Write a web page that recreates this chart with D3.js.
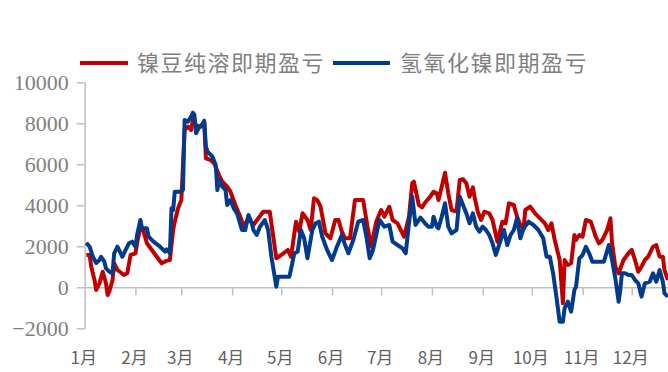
<!DOCTYPE html>
<html>
<head>
<meta charset="utf-8">
<script src="https://cdn.jsdelivr.net/npm/d3@7"></script>
<style>
  html, body { margin: 0; padding: 0; background: #fff; }
  svg { display: block; }
</style>
</head>
<body>
<svg id="chart" width="668" height="372"></svg>
<script>
// Series names and month labels
const seriesNames = ["镍豆纯溶即期盈亏", "氢氧化镍即期盈亏"];
const monthLabels = ["1月","2月","3月","4月","5月","6月","7月","8月","9月","10月","11月","12月"];
const yTickValues = [-2000, 0, 2000, 4000, 6000, 8000, 10000];

// 镍豆纯溶即期盈亏: day of year (0 = Jan 1) and value (元/吨)
const redDays = [1,3,4,6,7,9,11,13,14,15,17,18,20,24,26,28,31,32,34,36,38,41,44,47,50,52,54,55,57,59,
  61,63,65,66,68,70,73,74,77,79,82,84,87,89,92,95,97,100,103,106,109,113,117,120,124,126,129,131,133,136,
  138,140,142,144,147,150,153,155,157,159,162,165,170,173,175,178,181,183,186,188,191,195,198,200,201,204,206,208,211,213,
  215,216,218,220,222,224,227,229,231,233,235,237,238,240,242,244,247,249,252,255,257,259,262,264,266,268,269,272,275,278,
  281,283,285,287,290,292,293,295,297,299,300,302,304,306,309,312,314,316,319,321,322,324,326,329,332,334,336,338,340,342,
  344,347,349,351,353,354,356];
const redValues = [1576,1576,1005,356,-130,195,760,195,-375,-215,356,1170,844,600,683,1576,1660,2146,2956,2712,2146,1820,1490,1170,1300,1330,2795,3200,3853,4258,
  7674,7834,7674,8160,7917,7834,8000,6290,6210,6050,5478,5150,4907,4663,4015,3444,2956,3366,3039,3366,3688,3688,1415,1576,1820,1490,3200,2712,3610,3283,
  2795,4341,4258,3931,2634,2390,3283,3283,2712,2390,2390,4258,4258,2795,1980,3200,3771,3444,3931,3283,3122,2470,3444,5073,5150,4015,3900,4150,4420,4663,
  4585,4258,4907,5590,4585,3771,3688,5234,5268,5073,4420,4878,4420,3688,3283,3688,3610,3283,2225,3200,3122,4097,4015,3444,3039,2878,3771,3931,3610,3366,
  3122,2795,3122,2307,1330,-780,1330,1088,1170,2551,2307,2551,2470,3283,3200,2470,2146,2307,2795,3366,2146,1005,683,1330,1660,1820,1330,760,1005,1330,
  1490,1980,2063,1490,1490,844,356];

// 氢氧化镍即期盈亏
const blueDays = [1,3,5,7,9,10,12,13,15,17,18,20,23,25,27,29,31,32,34,35,38,39,42,46,49,50,52,53,54,55,
  58,60,61,63,65,66,67,68,70,71,73,74,75,78,80,81,82,84,86,87,89,91,93,96,98,100,102,103,105,107,
  110,112,114,117,118,125,128,130,132,134,136,139,141,143,145,148,151,154,157,159,161,164,167,170,172,174,176,180,183,186,
  188,191,194,196,198,200,202,205,208,210,212,213,215,216,218,220,222,224,227,229,231,233,235,237,239,241,243,245,247,249,
  251,253,256,258,260,262,264,266,268,271,274,277,280,282,284,286,288,290,292,293,295,297,299,300,302,304,306,308,310,314,
  317,320,322,324,326,327,328,330,332,334,336,338,340,342,345,347,349,351,353,354,356];
const blueValues = [2175,1980,1490,1185,1330,1490,1250,927,760,683,1660,1980,1490,1820,2146,2225,1980,2550,3283,2878,2878,2470,2225,1980,1737,1854,1660,3853,3771,4663,
  4663,4746,8160,8078,8322,8517,8405,7512,7834,7834,8127,6860,6615,6371,5966,4746,5234,4907,4746,4015,4258,3853,3610,2795,2795,3527,3122,2795,2551,2956,
  3283,2795,1490,30,517,517,1660,1737,2795,2390,1415,2795,3122,3200,2470,1820,1330,1980,2551,2063,1660,2307,3200,3283,2470,1415,1820,3283,2956,3039,
  2225,2063,1902,1660,3122,4420,3039,3400,3100,2956,2956,3444,2956,2878,3444,4097,2956,2634,2795,4420,4015,3610,3122,3610,2956,2712,2956,2795,2551,2146,
  1576,2063,2795,2063,2551,2795,3366,2390,2878,3200,3039,2795,2390,1490,1490,683,-455,-1677,-1677,-1025,-700,-1190,-130,30,1415,1576,1980,1660,1250,1250,
  1250,2063,1330,439,-700,-130,683,683,600,600,356,195,-455,195,273,683,273,844,273,-293,-455];

const year = 2023;
const dayToDate = d => d3.timeDay.offset(new Date(year, 0, 1), d);
const redSeries = redDays.map((d, i) => ({ date: dayToDate(d), value: redValues[i] }));
const blueSeries = blueDays.map((d, i) => ({ date: dayToDate(d), value: blueValues[i] }));

const svg = d3.select("#chart");
const gray = "#bfbfbf";
const textGray = "#7f7f7f";

const x = d3.scaleTime()
  .domain([new Date(year, 0, 1), new Date(year + 1, 0, 1)])
  .range([84.7, 682.5]);
const y = d3.scaleLinear().domain([-2000, 10000]).range([328.3, 82.3]);

// Y axis
const yAxis = svg.append("g").attr("transform", "translate(84.7,0)")
  .call(d3.axisLeft(y).tickValues(yTickValues).tickSize(8).tickSizeOuter(0).tickPadding(8).tickFormat(d3.format("d")));
yAxis.select(".domain").attr("stroke", gray).attr("stroke-width", 1.5);
yAxis.selectAll(".tick line").attr("stroke", gray).attr("stroke-width", 1.5);
yAxis.selectAll(".tick text")
  .attr("fill", textGray)
  .style("font-family", "'Liberation Serif', 'Times New Roman', serif")
  .style("font-size", "22px");

// X axis along the zero line, with month boundary ticks
const monthStarts = d3.timeMonth.range(new Date(year, 0, 1), new Date(year, 11, 2));
const xAxis = svg.append("g").attr("transform", `translate(0,${y(0)})`)
  .call(d3.axisBottom(x).tickValues(monthStarts.slice(1)).tickSize(8).tickSizeOuter(0).tickFormat(""));
xAxis.select(".domain").attr("stroke", gray).attr("stroke-width", 1.5);
xAxis.selectAll(".tick line").attr("stroke", gray).attr("stroke-width", 1.5);

// Month labels at the bottom of the plot
svg.append("g").selectAll("text")
  .data(monthStarts)
  .join("text")
  .attr("x", d => x(d) - 1)
  .attr("y", 364)
  .attr("text-anchor", "middle")
  .attr("fill", "#5f5f5f")
  .style("font-family", "'Noto Sans CJK SC', 'Noto Sans', sans-serif")
  .style("font-size", "17px")
  .text((d, i) => monthLabels[i]);

// Lines
const line = d3.line().x(d => x(d.date)).y(d => y(d.value));
svg.append("path").datum(redSeries)
  .attr("fill", "none").attr("stroke", "#c00000").attr("stroke-width", 4)
  .attr("stroke-linejoin", "round").attr("d", line);
svg.append("path").datum(blueSeries)
  .attr("fill", "none").attr("stroke", "#023a8c").attr("stroke-width", 4)
  .attr("stroke-linejoin", "round").attr("d", line);

// Legend
const legend = [
  { name: seriesNames[0], color: "#c00000", x1: 80, x2: 128, tx: 137 },
  { name: seriesNames[1], color: "#023a8c", x1: 333, x2: 390, tx: 400 }
];
const lg = svg.append("g");
legend.forEach(l => {
  lg.append("line").attr("x1", l.x1).attr("x2", l.x2).attr("y1", 63).attr("y2", 63)
    .attr("stroke", l.color).attr("stroke-width", 4);
  lg.append("text").attr("x", l.tx).attr("y", 63).attr("dy", "0.36em")
    .attr("fill", textGray)
    .style("font-family", "'Noto Sans CJK SC', sans-serif")
    .style("font-size", "22px")
    .style("letter-spacing", "1.5px")
    .text(l.name);
});
</script>
</body>
</html>
